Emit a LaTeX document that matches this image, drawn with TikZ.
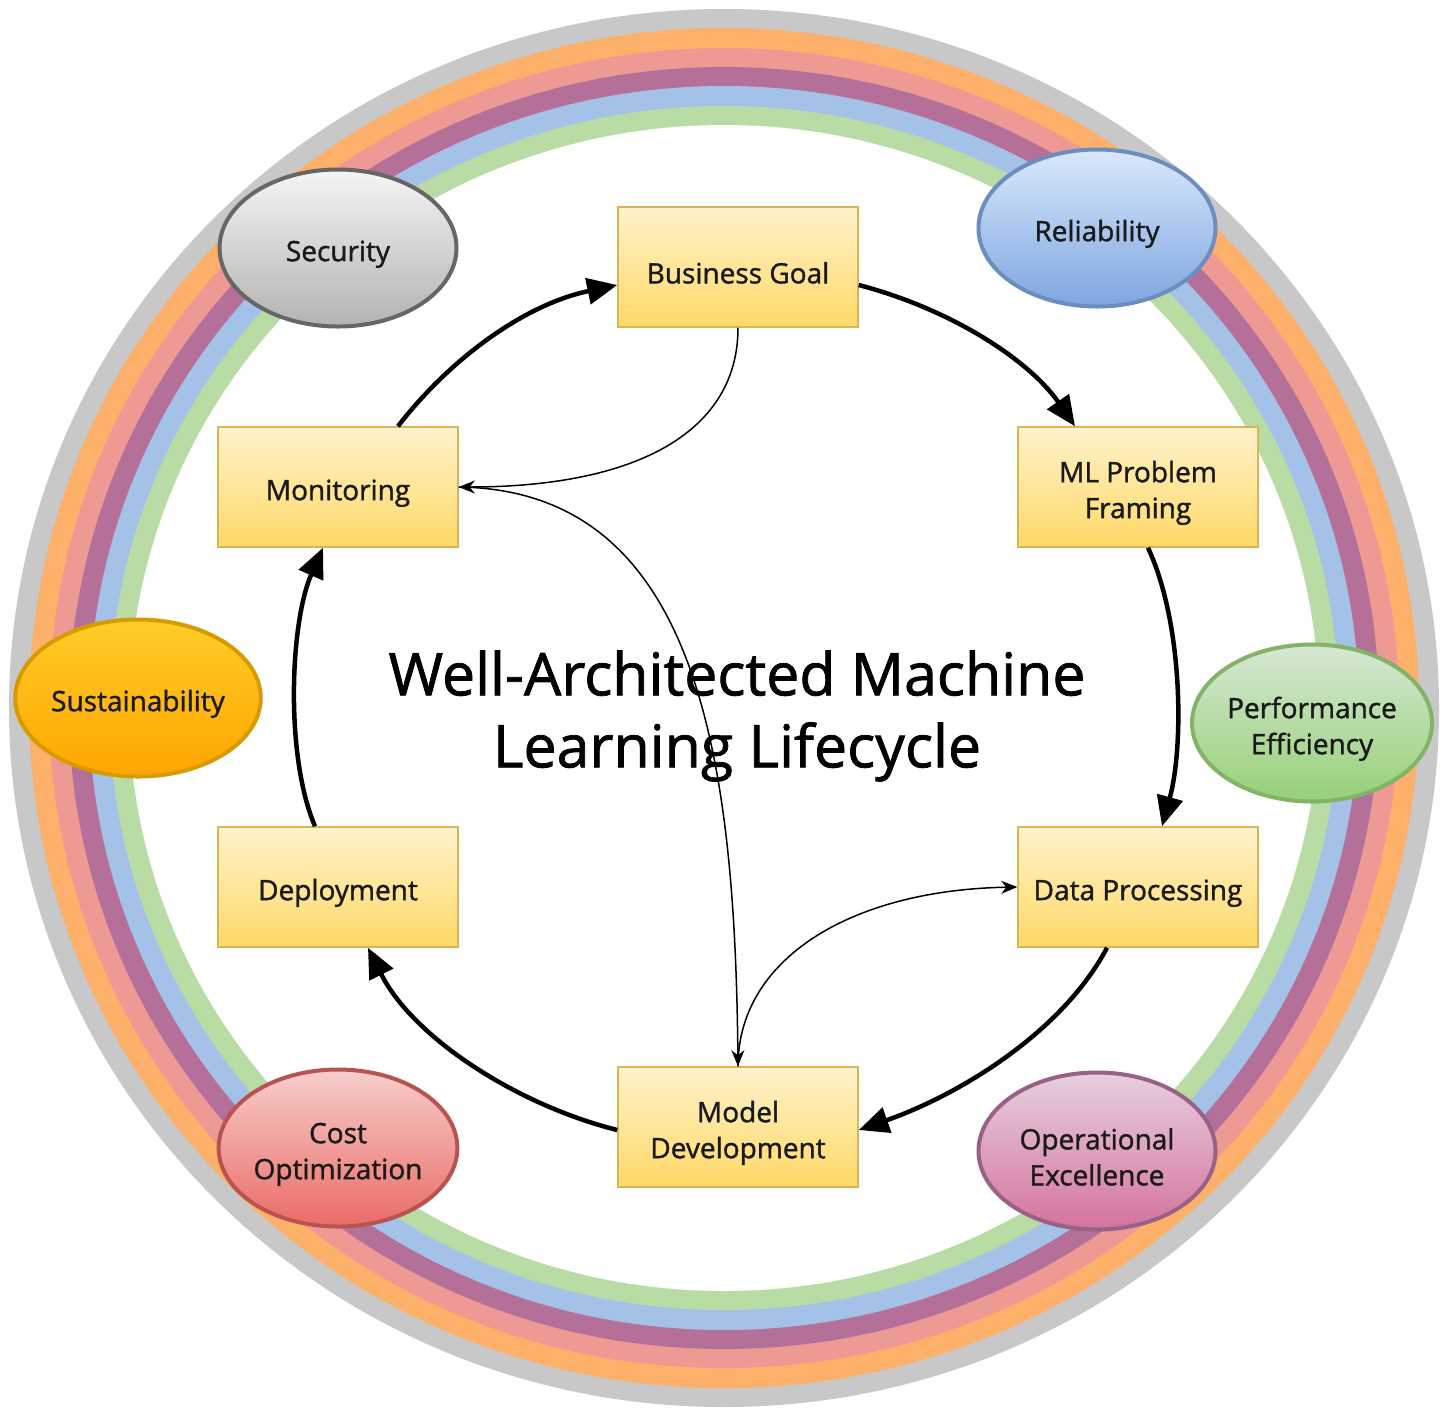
\documentclass[tikz,border=0pt]{standalone}
\usepackage{fontspec}
\setmainfont{Open Sans}[FakeBold=1.3]
\usetikzlibrary{arrows.meta,calc,shapes.geometric}
\definecolor{rgray}{HTML}{C8C8C8}
\definecolor{rorange}{HTML}{FDB06A}
\definecolor{rpink}{HTML}{EE9A94}
\definecolor{rpurple}{HTML}{B47098}
\definecolor{rblue}{HTML}{A4C2E8}
\definecolor{rgreen}{HTML}{B9DCA4}
\definecolor{boxtop}{HTML}{FFF2CC}
\definecolor{boxbot}{HTML}{FFD966}
\definecolor{boxline}{HTML}{D6B656}
\definecolor{secline}{HTML}{666666}
\definecolor{sectop}{HTML}{F5F5F5}
\definecolor{secbot}{HTML}{B3B3B3}
\definecolor{relline}{HTML}{6C8EBF}
\definecolor{reltop}{HTML}{DAE8FC}
\definecolor{relbot}{HTML}{7EA6E0}
\definecolor{susline}{HTML}{D79B00}
\definecolor{sustop}{HTML}{FFCD28}
\definecolor{susbot}{HTML}{FFA500}
\definecolor{perfline}{HTML}{82B366}
\definecolor{perftop}{HTML}{D5E8D4}
\definecolor{perfbot}{HTML}{97D077}
\definecolor{costline}{HTML}{B85450}
\definecolor{costtop}{HTML}{F8CECC}
\definecolor{costbot}{HTML}{EA6B66}
\definecolor{opsline}{HTML}{996185}
\definecolor{opstop}{HTML}{E6D0DE}
\definecolor{opsbot}{HTML}{D5739D}
\definecolor{txt}{HTML}{1A1A1A}
\tikzset{
  stagebox/.style={rectangle, minimum width=240pt, minimum height=120pt, inner sep=0pt,
    align=center, font=\fontsize{28}{36}\selectfont, text=txt, text height=33pt,
    draw=boxline, line width=1.5pt, top color=boxtop, bottom color=boxbot},
  pillar/.style={ellipse, minimum width=237pt, minimum height=157pt, inner sep=0pt,
    align=center, font=\fontsize{28}{36}\selectfont, text=txt, text height=33pt, line width=4pt},
  twolines/.style={text height=69pt},
  cyc/.style={line width=4.5pt, -{Triangle[length=30pt,width=26pt]}},
  thin/.style={line width=1.5pt, -{Stealth[length=16pt,width=13pt,inset=5pt]}}
}
\begin{document}
\begin{tikzpicture}[x=1pt,y=-1pt]
\useasboundingbox (0,0) rectangle (1450,1409);
\fill[white] (0,0) rectangle (1450,1409);
% rings
\fill[rgray]   (724,708) ellipse [x radius=715, y radius=699];
\fill[rorange] (724,708) ellipse [x radius=695, y radius=680];
\fill[rpink]   (724,708) ellipse [x radius=675, y radius=660];
\fill[rpurple] (724,708) ellipse [x radius=655, y radius=641];
\fill[rblue]   (724,708) ellipse [x radius=635, y radius=622];
\fill[rgreen]  (724,708) ellipse [x radius=615, y radius=602];
\fill[white]   (724,708) ellipse [x radius=595, y radius=583];
% pillars
\node[pillar, draw=secline, top color=sectop, bottom color=secbot] (sec) at (338,248) {Security};
\node[pillar, draw=relline, top color=reltop, bottom color=relbot] (rel) at (1097,228) {Reliability};
\node[pillar, draw=susline, top color=sustop, bottom color=susbot] (sus) at (138,698) {Sustainability};
\node[pillar, twolines, draw=perfline, top color=perftop, bottom color=perfbot] (perf) at (1312,723) {Performance\\Efficiency};
\node[pillar, twolines, draw=costline, top color=costtop, bottom color=costbot] (cost) at (338,1148) {Cost\\Optimization};
\node[pillar, twolines, draw=opsline, top color=opstop, bottom color=opsbot] (ops) at (1097,1151) {Operational\\Excellence};
% stages
\node[stagebox] (bg)  at (738,267)  {Business Goal};
\node[stagebox] (mon) at (338,487)  {Monitoring};
\node[stagebox, twolines] (ml)  at (1138,487) {ML Problem\\Framing};
\node[stagebox] (dep) at (338,887)  {Deployment};
\node[stagebox] (dp)  at (1138,887) {Data Processing};
\node[stagebox, twolines] (md)  at (738,1127) {Model\\Development};
% title
\node[align=center, font=\fontsize{59}{72}\selectfont, inner sep=0pt] (title) at (737,716) {Well-Architected Machine\\Learning Lifecycle};
% cycle arrows
\draw[cyc] ($(bg.east)+(0,18)$) .. controls +(95,25) and +(-45,-65) .. ($(ml.north)+(-63,0)$);
\draw[cyc] ($(ml.south)+(10,0)$) .. controls +(35,75) and +(22,-80) .. ($(dp.north)+(24,0)$);
\draw[cyc] ($(dp.south)+(-31,0)$) .. controls +(-45,85) and +(100,-35) .. ($(md.east)+(0,3)$);
\draw[cyc] ($(md.west)+(0,3)$) .. controls +(-100,-25) and +(45,90) .. ($(dep.south)+(30,0)$);
\draw[cyc] ($(dep.north)+(-23,0)$) .. controls +(-30,-70) and +(-33,75) .. ($(mon.south)+(-15,0)$);
\draw[cyc] ($(mon.north)+(60,0)$) .. controls +(50,-65) and +(-95,20) .. ($(bg.west)+(0,18)$);
% thin arrows
\draw[thin] (bg.south) .. controls +(0,103) and +(180,0) .. (mon.east);
\draw[thin] (mon.east) .. controls +(240,3) and +(-3,-307) .. (md.north);
\draw[thin] (md.north) .. controls +(0,-107) and +(-167,3) .. (dp.west);
\end{tikzpicture}
\end{document}
